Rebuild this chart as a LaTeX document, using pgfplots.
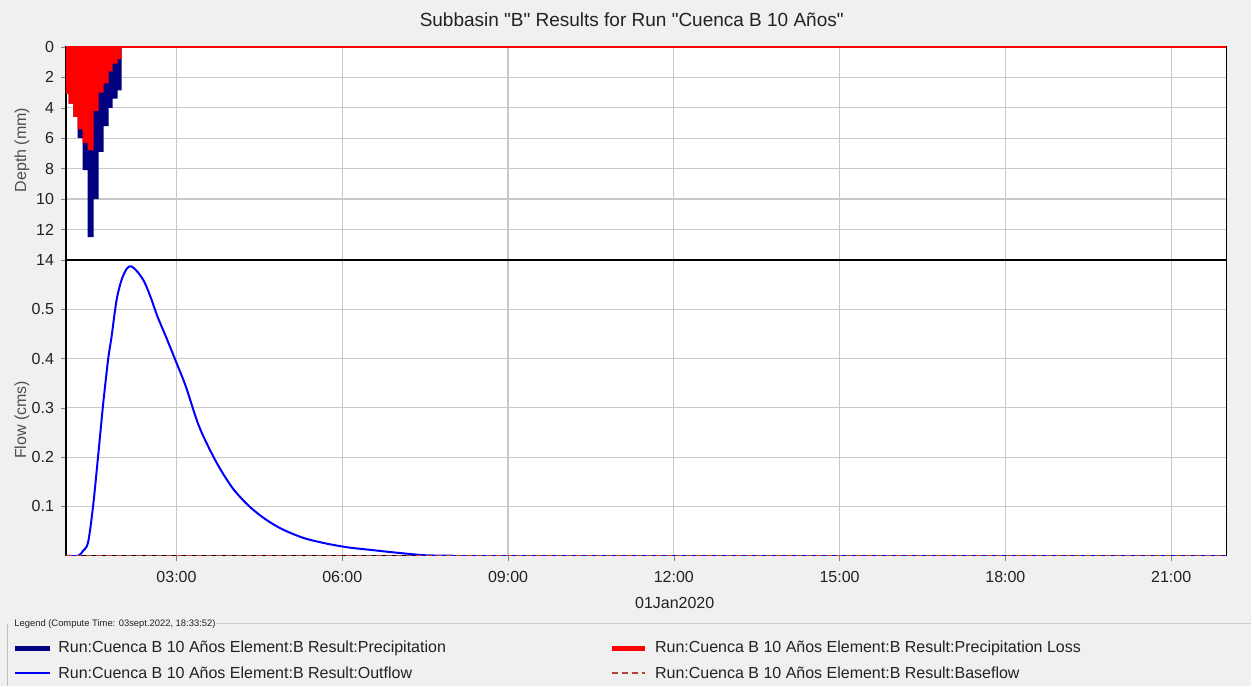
\documentclass[border=0pt]{standalone}
\usepackage{pgfplots}
\pgfplotsset{compat=1.18}
\usepackage{fontspec}
\setmainfont{Liberation Sans}
\newfontfamily\plainfont{Liberation Sans}[Ligatures=TeXOff]
\definecolor{bg}{HTML}{F0F0F0}
\definecolor{navyc}{HTML}{000080}
\definecolor{gridc}{HTML}{C8C8C8}
\definecolor{basec}{HTML}{B8423A}
\definecolor{txt}{HTML}{222222}
\begin{document}
\begin{tikzpicture}[x=1pt,y=1pt]
\fill[bg] (0,0) rectangle (626,343);
\pgfplotsset{every axis/.append style={
  scale only axis, width=580.5pt, xmin=1, xmax=22,
  xtick={3,6,...,21},
  grid=major, major grid style={gridc, line width=0.6pt},
  axis background/.style={fill=white},
  tick align=outside, major tick length=2.5pt,
  ytick pos=left, xtick pos=bottom,
  tick label style={font=\fontsize{8}{9}\selectfont, text=txt},
  /pgf/number format/assume math mode=true,
  axis line style={black, line width=0.6pt},
  clip=true,
}}
% Top panel: depth
\begin{axis}[at={(33pt,213pt)}, anchor=south west, height=106.5pt,
  ymin=0, ymax=14, y dir=reverse, ytick={0,2,...,14},
  xticklabels={}, xtick style={draw=none}]
\addplot[const plot, fill=navyc, draw=none] coordinates {
(1.000,3.06) (1.048,3.72) (1.133,4.59) (1.210,6.0) (1.301,8.1) (1.392,12.5)
(1.500,10.0) (1.590,6.9) (1.680,5.2) (1.771,4.0) (1.843,3.4) (1.934,2.85)
(2.006,0) (22,0)} \closedcycle;
\addplot[const plot, fill=red, draw=none] coordinates {
(1.000,3.06) (1.048,3.72) (1.133,4.59) (1.210,5.42) (1.301,6.3) (1.392,6.8)
(1.500,4.2) (1.590,3.0) (1.680,2.4) (1.771,1.6) (1.843,1.1) (1.934,0.8)
(2.006,0) (22,0)} \closedcycle;
\addplot[red, line width=1.2pt] coordinates {(1,0) (22,0)};
\end{axis}
% Bottom panel: flow
\begin{axis}[at={(33pt,65pt)}, anchor=south west, height=148pt,
  ymin=0, ymax=0.6, ytick={0.1,0.2,0.3,0.4,0.5},
  yticklabel style={/pgf/number format/fixed},
  xticklabel style={yshift=-2pt},
  xticklabels={03:00,06:00,09:00,12:00,15:00,18:00,21:00}]
\addplot[blue, line width=1pt, smooth, tension=0.5] coordinates {
(1,0) (1.22,0) (1.31,0.01) (1.40,0.027) (1.49,0.10) (1.58,0.20) (1.675,0.31)
(1.765,0.40) (1.825,0.444) (1.915,0.518) (2.005,0.559) (2.10,0.582) (2.18,0.587)
(2.30,0.575) (2.42,0.555) (2.54,0.522) (2.66,0.484) (2.81,0.444) (2.99,0.394)
(3.17,0.343) (3.41,0.262) (3.71,0.192) (4.01,0.138) (4.31,0.101) (4.61,0.074)
(4.91,0.054) (5.3,0.036) (5.7,0.025) (6.1,0.017) (6.5,0.012) (7.0,0.006)
(7.5,0.001) (8,0)};
\addplot[blue, line width=1pt] coordinates {(8,0) (22,0)};
\addplot[basec, line width=0.9pt, dash pattern=on 3pt off 2pt] coordinates {(1,0) (22,0)};
\end{axis}
\draw[black, line width=1.3pt] (33,213) -- (613.5,213);
% Titles and labels
\node[text=txt, font=\plainfont\fontsize{9.5}{11}\selectfont] at (316,333) {Subbasin "B" Results for Run "Cuenca B 10 Años"};
\node[text=txt!80, font=\fontsize{8}{9}\selectfont, rotate=90] at (11,268) {Depth (mm)};
\node[text=txt!80, font=\fontsize{8}{9}\selectfont, rotate=90] at (11,133) {Flow (cms)};
\node[text=txt, font=\fontsize{8}{9}\selectfont] at (337.5,41.5) {01Jan2020};
% Legend
\draw[gray!40, line width=0.6pt] (108,31) -- (626,31);
\draw[gray!50, line width=0.5pt] (4,31) -- (4,0);
\node[anchor=west, inner sep=0pt, text=txt, font=\fontsize{4.7}{6}\selectfont] at (7,31) {Legend (Compute Time: 03sept.2022, 18:33:52)};
\draw[navyc, line width=2.5pt] (7.5,18.5) -- (25,18.5);
\node[anchor=west, inner sep=0pt, text=txt, font=\fontsize{8}{9}\selectfont] at (29,18.5) {Run:Cuenca B 10 Años Element:B Result:Precipitation};
\draw[red, line width=2.5pt] (306,18.5) -- (322.5,18.5);
\node[anchor=west, inner sep=0pt, text=txt, font=\fontsize{8}{9}\selectfont] at (327.5,18.5) {Run:Cuenca B 10 Años Element:B Result:Precipitation Loss};
\draw[blue, line width=1pt] (7.5,6.5) -- (25,6.5);
\node[anchor=west, inner sep=0pt, text=txt, font=\fontsize{8}{9}\selectfont] at (29,6.5) {Run:Cuenca B 10 Años Element:B Result:Outflow};
\draw[basec, line width=0.9pt, dash pattern=on 3pt off 2pt] (306,6.5) -- (322.5,6.5);
\node[anchor=west, inner sep=0pt, text=txt, font=\fontsize{8}{9}\selectfont] at (327.5,6.5) {Run:Cuenca B 10 Años Element:B Result:Baseflow};
\end{tikzpicture}
\end{document}
